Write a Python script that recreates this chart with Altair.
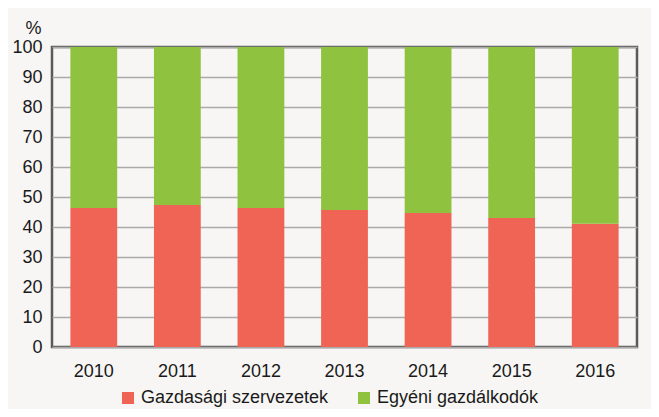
import altair as alt
import pandas as pd

years = ["2010", "2011", "2012", "2013", "2014", "2015", "2016"]
gazdasagi = [46.3, 47.3, 46.3, 45.7, 44.7, 43.0, 41.1]
egyeni = [53.7, 52.7, 53.7, 54.3, 55.3, 57.0, 58.9]
series = ["Gazdasági szervezetek", "Egyéni gazdálkodók"]
colors = ["#EF6455", "#8FC23F"]

rows = []
for i, y in enumerate(years):
    rows.append({"year": y, "series": series[0], "value": gazdasagi[i], "ord": 0})
    rows.append({"year": y, "series": series[1], "value": egyeni[i], "ord": 1})
df = pd.DataFrame(rows)

FONT = "Liberation Sans, Arial, sans-serif"
FS = 18
TXT = "#1a1a1a"

chart = alt.Chart(df).mark_bar().encode(
    x=alt.X("year:N", title=None,
            scale=alt.Scale(paddingInner=0.44, paddingOuter=0.22),
            axis=alt.Axis(labelAngle=0, ticks=False, domain=False, labelPadding=15,
                          labelFontSize=FS, labelFont=FONT, labelColor=TXT)),
    y=alt.Y("value:Q", stack="zero",
            scale=alt.Scale(domain=[0, 100], nice=False),
            axis=alt.Axis(values=list(range(0, 101, 10)), ticks=False, domain=False,
                          labelPadding=10, labelFontSize=FS, labelFont=FONT,
                          labelColor=TXT,
                          gridColor="#aaaaaa", gridWidth=1.5,
                          title="%", titleAngle=0, titleX=-19, titleY=-14,
                          titleAlign="center", titleBaseline="alphabetic",
                          titleFont=FONT, titleFontSize=FS, titleFontWeight="normal",
                          titleColor=TXT)),
    color=alt.Color("series:N", scale=alt.Scale(domain=series, range=colors),
                    legend=alt.Legend(title=None, orient="none", direction="horizontal",
                                      legendX=67, legendY=342,
                                      symbolType="square", symbolSize=144,
                                      symbolStrokeWidth=0, symbolOpacity=1,
                                      labelFont=FONT, labelFontSize=FS, labelLimit=0,
                                      labelColor=TXT, labelOffset=4,
                                      columnPadding=26, padding=0)),
    order=alt.Order("ord:Q"),
).properties(
    width=585, height=300,
    autosize=alt.AutoSizeParams(type="none"),
    padding={"left": 44, "top": 39, "right": 14, "bottom": 62},
    background="#f7f6f4",
).configure_view(
    stroke="#5a5a5a", strokeWidth=2.5, fill="#f7f6f4"
)

chart.save("out.html", embed_options={"renderer": "svg", "actions": False})
